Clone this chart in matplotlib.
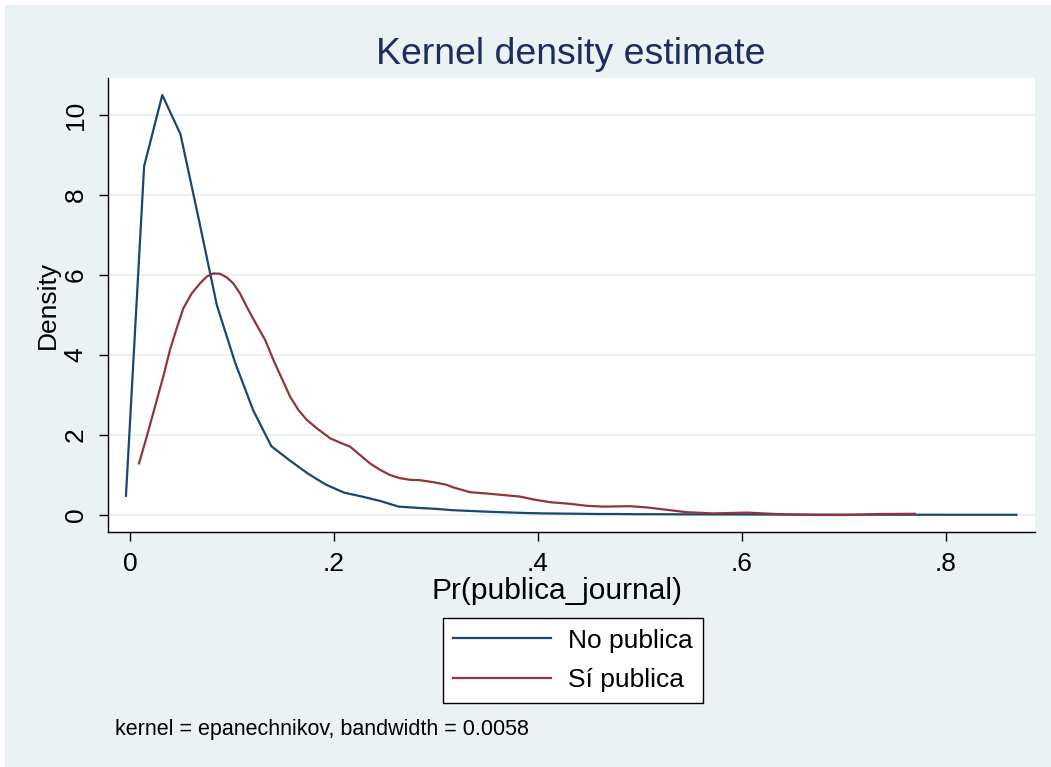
import numpy as np
import matplotlib
matplotlib.use("Agg")
import matplotlib.pyplot as plt
from matplotlib.patches import Rectangle

plt.rcParams['font.family'] = ['Liberation Sans', 'DejaVu Sans']

# ---- data ----
# "No publica": 50 evenly spaced estimation points
x_no_start, x_no_end = -0.004, 0.869
dens_no = [0.48, 8.72, 10.5, 9.52, 7.41, 5.25, 3.82, 2.62, 1.72, 1.37,
           1.04, 0.76, 0.56, 0.46, 0.35, 0.21, 0.18, 0.155, 0.12, 0.10,
           0.08, 0.065, 0.05, 0.04, 0.035, 0.03, 0.025, 0.025, 0.02, 0.02,
           0.018, 0.016, 0.015, 0.014, 0.013, 0.012, 0.011, 0.01, 0.01, 0.009,
           0.008, 0.008, 0.007, 0.007, 0.006, 0.006, 0.005, 0.005, 0.005, 0.005]
# "Sí publica": traced points
x_si = [0.0088, 0.0164, 0.0245, 0.0326, 0.0392, 0.0458, 0.0523, 0.0605, 0.0686, 0.0752,
        0.0817, 0.0882, 0.0948, 0.1013, 0.1078, 0.1160, 0.1242, 0.1324, 0.1405, 0.1487,
        0.1569, 0.1650, 0.1732, 0.1830, 0.1961, 0.2059, 0.2157, 0.2255, 0.2353, 0.2451,
        0.2549, 0.2647, 0.2745, 0.2843, 0.2974, 0.3098, 0.3170, 0.3333, 0.3529, 0.3824,
        0.3954, 0.4118, 0.4314, 0.4477, 0.4640, 0.4902, 0.5066, 0.5262, 0.5458, 0.5716,
        0.6046, 0.6373, 0.6696, 0.7026, 0.7353, 0.7696]
dens_si = [1.29, 1.96, 2.71, 3.46, 4.13, 4.67, 5.17, 5.54, 5.79, 5.96,
           6.04, 6.03, 5.94, 5.79, 5.54, 5.13, 4.75, 4.38, 3.88, 3.42,
           2.96, 2.63, 2.38, 2.17, 1.92, 1.81, 1.71, 1.50, 1.29, 1.13,
           1.00, 0.92, 0.88, 0.87, 0.82, 0.76, 0.69, 0.57, 0.53, 0.46,
           0.39, 0.32, 0.28, 0.23, 0.21, 0.22, 0.19, 0.13, 0.07, 0.04,
           0.06, 0.02, 0.0, 0.0, 0.025, 0.03]
series_labels = ["No publica", "Sí publica"]
xticks = [0, 0.2, 0.4, 0.6, 0.8]
xtick_labels = ["0", ".2", ".4", ".6", ".8"]
yticks = [0, 2, 4, 6, 8, 10]
ytick_labels = ["0", "2", "4", "6", "8", "10"]

x_no = np.linspace(x_no_start, x_no_end, len(dens_no))

W, H = 1051, 767
BG = "#EAF2F3"
NAVY = "#1A476F"
MAROON = "#90353B"

def fx(px):
    return px / W

def fy(py):
    return 1 - py / H

fig = plt.figure(figsize=(W / 100, H / 100), dpi=100, facecolor=BG)
fig.patches.append(Rectangle((0, fy(5)), 1, 5 / H, transform=fig.transFigure,
                             facecolor="white", edgecolor="none", zorder=-10))
fig.patches.append(Rectangle((0, 0), 5 / W, 1, transform=fig.transFigure,
                             facecolor="white", edgecolor="none", zorder=-10))

ax = fig.add_axes([fx(108), fy(532), fx(1035) - fx(108), fy(78) - fy(532)])
ax.set_facecolor("white")
ax.plot(x_no, dens_no, color=NAVY, lw=1.6, label=series_labels[0], zorder=3)
ax.plot(x_si, dens_si, color=MAROON, lw=1.6, label=series_labels[1], zorder=3)

ax.set_xlim(-0.0216, 0.8873)
ax.set_ylim(-0.425, 10.925)
ax.set_xticks(xticks)
ax.set_xticklabels(xtick_labels)
ax.set_yticks(yticks)
ax.set_yticklabels(ytick_labels, rotation=90, va="center")
ax.yaxis.grid(True, color=BG, lw=1.6, zorder=0)
ax.xaxis.grid(False)
for s in ["top", "right"]:
    ax.spines[s].set_visible(False)
for s in ["left", "bottom"]:
    ax.spines[s].set_color("black")
    ax.spines[s].set_linewidth(1.0)
ax.tick_params(axis="both", length=6.5, width=1.0, colors="black", labelsize=19)
ax.tick_params(axis="x", pad=8)
ax.tick_params(axis="y", pad=8)

fig.text(fx(571), fy(54), "Kernel density estimate", ha="center", va="center",
         fontsize=26.9, color="#1C2E5C")
fig.text(fx(48), fy(305), "Density", rotation=90, ha="center", va="center",
         fontsize=19, color="black")
fig.text(fx(557), fy(591), "Pr(publica_journal)", ha="center", va="center",
         fontsize=21.5, color="black")
fig.text(fx(115), fy(729), "kernel = epanechnikov, bandwidth = 0.0058",
         ha="left", va="center", fontsize=15.5, color="black")

leg = ax.legend(loc="upper center", bbox_to_anchor=(fx(573), fy(618)),
                bbox_transform=fig.transFigure, fontsize=19, frameon=True,
                fancybox=False, edgecolor="black", framealpha=1,
                handlelength=3.7, borderpad=0.4, labelspacing=0.6,
                handletextpad=0.65, borderaxespad=0)
leg.get_frame().set_linewidth(1.0)

fig.savefig("out.png", dpi=100, facecolor=BG)
